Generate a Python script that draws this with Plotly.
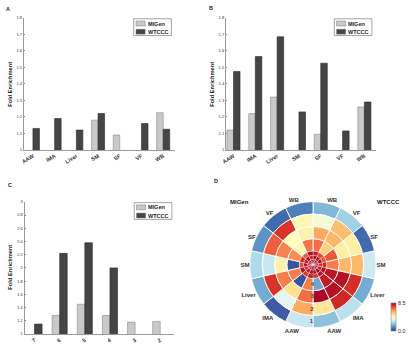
import plotly.graph_objects as go

W, H = 417, 354
FONT = "Liberation Sans"

# ---- bar panel data ----
tissues = ["AAW", "IMA", "Liver", "SM", "SF", "VF", "WB"]
a_migen = [None, None, None, 1.18, 1.09, None, 1.225]
a_wtccc = [1.13, 1.19, 1.12, 1.22, None, 1.16, 1.125]
b_migen = [1.12, 1.22, 1.32, None, 1.095, None, 1.26]
b_wtccc = [1.475, 1.565, 1.685, 1.23, 1.525, 1.115, 1.29]
states = ["7", "6", "5", "4", "3", "2"]
c_migen = [None, 1.28, 1.45, 1.28, 1.18, 1.19]
c_wtccc = [1.15, 2.22, 2.38, 2.0, None, None]

# ---- polar heatmap data (rows = rings 1..7, columns = tissues AAW..WB) ----
migen_heat = [
    [3.0, 0.5, 1.7, 2.6, 1.3, 0.7, 1.0],
    [6.0, 3.6, 7.6, 3.0, 7.0, 7.6, 4.5],
    [6.8, 5.1, 6.6, 4.6, 6.5, 4.3, 4.6],
    [6.6, 0.4, 6.6, 0.4, 6.4, 4.5, 6.7],
    [8.0, 7.5, 8.2, 7.2, 7.8, 7.0, 8.3],
    [8.4, 8.1, 7.6, 8.3, 8.0, 8.4, 7.9],
    [8.3, 8.4, 8.2, 8.0, 8.4, 8.3, 8.1],
]
wtccc_heat = [
    [2.1, 2.8, 1.7, 3.1, 0.7, 2.4, 1.9],
    [4.9, 7.8, 7.7, 5.8, 4.7, 5.7, 3.9],
    [8.4, 8.2, 8.2, 5.8, 4.7, 5.8, 6.0],
    [1.6, 8.0, 8.1, 6.6, 7.1, 5.4, 6.8],
    [7.6, 8.1, 8.3, 7.8, 7.2, 7.4, 8.0],
    [8.2, 8.4, 8.0, 7.7, 8.3, 8.1, 8.4],
    [8.4, 8.3, 8.4, 8.2, 8.0, 8.4, 8.3],
]
ring_labels = ["1", "2", "3", "4", "5", "6", "7"]

LIGHT = "#c9c9c9"
DARK = "#454545"


def px(x):
    return x / W


def py(y):
    return 1 - y / H


fig = go.Figure()

panels = [
    ("x", "y", tissues, a_migen, a_wtccc),
    ("x2", "y2", tissues, b_migen, b_wtccc),
    ("x3", "y3", states, c_migen, c_wtccc),
]
for xa, ya, cats, mig, wtc in panels:
    fig.add_trace(go.Bar(x=cats, y=mig, xaxis=xa, yaxis=ya, name="MIGen",
                         marker=dict(color=LIGHT, line=dict(color="#8a8a8a", width=0.6)),
                         showlegend=False))
    fig.add_trace(go.Bar(x=cats, y=wtc, xaxis=xa, yaxis=ya, name="WTCCC",
                         marker=dict(color=DARK, line=dict(color="#2a2a2a", width=0.6)),
                         showlegend=False))

# ---- polar heatmap ----
n_sec = 2 * len(tissues)
step = 360 / n_sec
ring_width = [1, 1, 1, 1, 0.34, 0.34, 0.34]
hole = 0.08
total = hole + sum(ring_width)

thetas, rs, bases, cols, edge = [], [], [], [], []
for k in range(len(ring_labels)):
    base = total - sum(ring_width[:k + 1])
    for i in range(len(tissues)):
        thetas += [180 - step / 2 - step * i, 180 + step / 2 + step * i]
        rs += [ring_width[k]] * 2
        bases += [base] * 2
        cols += [wtccc_heat[k][i], migen_heat[k][i]]
        edge += [0.9 if k < 4 else 0.35] * 2

fig.add_trace(go.Barpolar(
    theta=thetas, r=rs, base=bases, width=[step] * len(thetas),
    marker=dict(color=cols, colorscale="RdYlBu", reversescale=True, cmin=0, cmax=8.5,
                line=dict(color="white", width=edge),
                colorbar=dict(thickness=5, len=28, lenmode="pixels", xpad=0, ypad=0,
                              x=px(391), xanchor="left", y=py(319), yanchor="middle",
                              tickvals=[0, 8.5], ticktext=["0.0", "8.5"], ticks="",
                              outlinecolor="#888", outlinewidth=0.6,
                              tickfont=dict(size=5.5, family=FONT, color="#333"))),
    showlegend=False, hoverinfo="skip"))

ring_mid = [total - sum(ring_width[:k]) - ring_width[k] / 2 for k in range(len(ring_labels))]
fig.add_trace(go.Scatterpolar(
    theta=[181.5] * len(ring_labels), r=ring_mid, text=ring_labels, mode="text",
    textfont=dict(size=[6, 6, 6, 6, 3.5, 3.5, 3.5], family=FONT, color="#444", weight="bold"),
    showlegend=False, hoverinfo="skip"))

ang_vals = [180 - step / 2 - step * i for i in range(len(tissues))] + \
           [180 + step / 2 + step * i for i in range(len(tissues))]
ang_text = tissues + tissues

fig.update_layout(
    polar=dict(
        domain=dict(x=[px(248), px(376)], y=[py(329.5), py(201.5)]),
        bgcolor="white",
        radialaxis=dict(visible=False, range=[0, total]),
        angularaxis=dict(rotation=90, direction="clockwise", tickvals=ang_vals,
                         ticktext=ang_text, showgrid=False, showline=False, ticks="",
                         tickfont=dict(size=6, family=FONT, color="#333", weight="bold")),
    )
)

# ---- cartesian axes ----
axis_common = dict(showline=True, linecolor="#9a9a9a", linewidth=0.8, showgrid=False,
                   zeroline=False)
ytick = dict(size=4, family=FONT, color="#333")
xtick = dict(size=5.5, family=FONT, color="#333", weight="bold")

fig.update_layout(
    xaxis=dict(domain=[px(20), px(173)], anchor="y", range=[-0.42, 6.56], type="category",
               tickangle=-32, tickfont=xtick, ticks="", **axis_common),
    yaxis=dict(domain=[py(149), py(15)], anchor="x", range=[1, 1.8], dtick=0.1,
               ticks="inside", ticklen=1.5, tickcolor="#888", tickfont=ytick, **axis_common),
    xaxis2=dict(domain=[px(224), px(376)], anchor="y2", range=[-0.35, 6.55], type="category",
                tickangle=-32, tickfont=xtick, ticks="", **axis_common),
    yaxis2=dict(domain=[py(149), py(15)], anchor="x2", range=[1, 1.8], dtick=0.1,
                ticks="inside", ticklen=1.5, tickcolor="#888", tickfont=ytick, **axis_common),
    xaxis3=dict(domain=[px(20.7), px(171.7)], anchor="y3", range=[-0.4, 5.55], type="category",
                tickangle=-32, tickfont=xtick, ticks="", **axis_common),
    yaxis3=dict(domain=[py(335.7), py(201.7)], anchor="x3", range=[1, 3], dtick=0.2,
                ticks="inside", ticklen=1.5, tickcolor="#888", tickfont=ytick, **axis_common),
    barmode="group", bargap=0.4, bargroupgap=0,
    width=W, height=H, margin=dict(l=0, r=0, t=0, b=0),
    paper_bgcolor="white", plot_bgcolor="white",
)

shapes, notes = [], []


def add_legend(x0, y0):
    # boxed two-entry legend, top-left corner at pixel (x0, y0)
    shapes.append(dict(type="rect", xref="paper", yref="paper", x0=px(x0), x1=px(x0 + 38),
                       y0=py(y0 + 17), y1=py(y0), line=dict(color="#666", width=0.6),
                       fillcolor="white"))
    for j, (lab, col) in enumerate([("MIGen", LIGHT), ("WTCCC", DARK)]):
        yy = y0 + 2.3 + 8.3 * j
        shapes.append(dict(type="rect", xref="paper", yref="paper", x0=px(x0 + 2.3),
                           x1=px(x0 + 11.5), y0=py(yy + 5), y1=py(yy),
                           line=dict(color="#777", width=0.5), fillcolor=col))
        notes.append(dict(x=px(x0 + 12.3), y=py(yy + 2.5), xref="paper", yref="paper",
                          text=lab, showarrow=False, xanchor="left", yanchor="middle",
                          font=dict(size=5.5, family=FONT, color="#222", weight="bold")))


add_legend(131, 16)
add_legend(333.5, 16)
add_legend(131.5, 202.5)

for lab, x, y in [("A", 4, 6), ("B", 209, 5), ("C", 6.5, 185), ("D", 214, 181)]:
    notes.append(dict(x=px(x), y=py(y), xref="paper", yref="paper", text=lab, showarrow=False,
                      xanchor="center", yanchor="middle",
                      font=dict(size=5.5, family=FONT, color="#222", weight="bold")))

for x, y in [(6, 82), (210, 82), (6.5, 268)]:
    notes.append(dict(x=px(x), y=py(y), xref="paper", yref="paper", text="Fold Enrichment",
                      showarrow=False, textangle=-90, xanchor="center", yanchor="middle",
                      font=dict(size=5.7, family=FONT, color="#222", weight="bold")))

for lab, x, y in [("MIGen", 238, 202), ("WTCCC", 388, 202)]:
    notes.append(dict(x=px(x), y=py(y), xref="paper", yref="paper", text=lab, showarrow=False,
                      xanchor="center", yanchor="middle",
                      font=dict(size=6, family=FONT, color="#222", weight="bold")))

fig.update_layout(shapes=shapes, annotations=notes)

fig.write_html("out.html", config={"displayModeBar": False},
               post_script="document.body.style.margin='0px';")
